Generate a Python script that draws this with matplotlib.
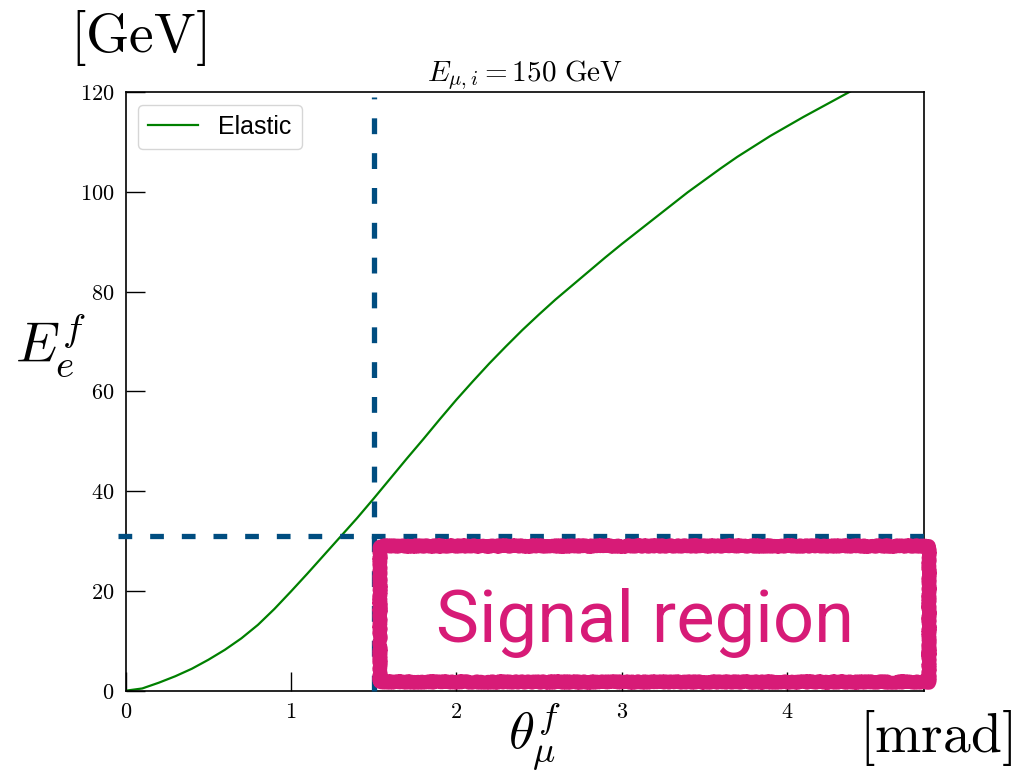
import numpy as np
import matplotlib
matplotlib.use("Agg")
import matplotlib.pyplot as plt
from matplotlib.patches import Rectangle
from matplotlib.ticker import FuncFormatter

plt.rcParams["mathtext.fontset"] = "cm"

# 数据：弹性散射曲线 (theta_mu [mrad], E_e [GeV])
theta_mu = [0.0, 0.1, 0.2, 0.3, 0.4, 0.5, 0.6, 0.7, 0.8, 0.9, 1.0, 1.1, 1.2,
            1.3, 1.4, 1.5, 1.6, 1.7, 1.8, 1.9, 2.0, 2.1, 2.2, 2.3, 2.4, 2.5,
            2.6, 2.7, 2.8, 2.9, 3.0, 3.1, 3.2, 3.3, 3.4, 3.5, 3.6, 3.7, 3.8,
            3.9, 4.0, 4.1, 4.2, 4.3, 4.4, 4.5, 4.6, 4.7, 4.8]
energy_e = [0.0, 0.45, 1.6, 2.9, 4.4, 6.2, 8.2, 10.5, 13.2, 16.4, 19.9, 23.5,
            27.2, 30.9, 34.6, 38.5, 42.5, 46.5, 50.4, 54.4, 58.3, 62.0, 65.6,
            69.0, 72.3, 75.4, 78.4, 81.2, 84.0, 86.8, 89.5, 92.1, 94.7, 97.3,
            99.9, 102.3, 104.7, 107.0, 109.1, 111.2, 113.1, 115.0, 116.8,
            118.6, 120.4, 122.1, 123.8, 125.4, 127.0]

theta_cut = 1.5    # 竖直切割线
energy_cut = 31.0  # 水平切割线

fig = plt.figure(figsize=(10.17, 7.72), dpi=100)
ax = fig.add_axes([0.1236, 0.1053, 0.785, 0.7755])

ax.plot(theta_mu, energy_e, color="green", linewidth=1.6, label="Elastic")

ax.set_xlim(0, 4.83)
ax.set_ylim(0, 120)
ax.set_xticks([0, 1, 2, 3, 4])
ax.set_yticks([0, 20, 40, 60, 80, 100, 120])
fmt = FuncFormatter(lambda v, p: r"$%d$" % v)
ax.xaxis.set_major_formatter(fmt)
ax.yaxis.set_major_formatter(fmt)
ax.tick_params(direction="in", length=14, width=1.0, labelsize=16, pad=8)
for s in ax.spines.values():
    s.set_linewidth(1.2)

ax.set_title(r"$E_{\mu,i} = 150\ \mathrm{GeV}$", fontsize=21, pad=4)

leg = ax.legend(loc="upper left", prop={"family": "Liberation Sans", "size": 18},
                handlelength=2.0, borderpad=0.4, fancybox=True)

# 切割线（蓝色虚线）
dash_col = "#004d80"
ax.plot([theta_cut, theta_cut], [0, 119], color=dash_col, linewidth=3.8,
        linestyle=(0, (3.0, 3.6)), clip_on=False, zorder=3)
ax.plot([-0.045, 4.9], [energy_cut, energy_cut], color=dash_col, linewidth=3.8,
        linestyle=(0, (2.6, 3.4)), clip_on=False, zorder=3)

# 信号区（粉色手绘框）
pink = "#d71b77"
for lw, sk in [(10, (0.8, 4, 6)), (7, (1.2, 3, 8)), (4, (1.6, 2, 10))]:
    r = Rectangle((1.54, 1.75), 4.86 - 1.54, 29.1 - 1.75, fill=False,
                  edgecolor=pink, linewidth=lw, clip_on=False, zorder=5,
                  joinstyle="round")
    r.set_sketch_params(*sk)
    ax.add_patch(r)
ax.text(3.14, 9.8, "Signal region", color=pink, fontsize=52,
        family="Roboto", ha="center", va="baseline", zorder=6)

# 坐标轴标签
fig.text(70 / 1017, 1 - 38 / 772, r"$[\mathrm{GeV}]$", fontsize=40, ha="left", va="center")
fig.text(15 / 1017, 1 - 345 / 772, r"$E_e^f$", fontsize=40, ha="left", va="center")
fig.text(535 / 1017, 1 - 736 / 772, r"$\theta_\mu^f$", fontsize=38, ha="center", va="center")
fig.text(1012 / 1017, 1 - 738 / 772, r"$[\mathrm{mrad}]$", fontsize=40, ha="right", va="center")

fig.savefig("out.png", dpi=100)
